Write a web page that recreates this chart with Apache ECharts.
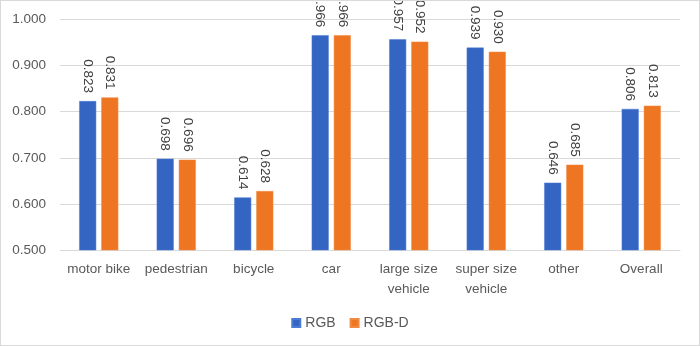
<!DOCTYPE html>
<html><head><meta charset="utf-8">
<script src="https://cdn.jsdelivr.net/npm/echarts@6/dist/echarts.min.js"></script>
<style>
html,body{margin:0;padding:0;background:#fff;}
#c{position:absolute;left:0;top:0;width:698px;height:344px;border:1px solid #d9d9d9;}
</style></head><body>
<div id="c"></div>
<script>
var categories = ['motor bike', 'pedestrian', 'bicycle', 'car', 'large size\nvehicle', 'super size\nvehicle', 'other', 'Overall'];
var rgbValues = [0.823, 0.698, 0.614, 0.966, 0.957, 0.939, 0.646, 0.806];
var rgbdValues = [0.831, 0.696, 0.628, 0.966, 0.952, 0.930, 0.685, 0.813];
var seriesNames = ['RGB', 'RGB-D'];
var yMin = 0.5, yMax = 1.0, yStep = 0.1;

var chart = echarts.init(document.getElementById('c'));
var font = 'Liberation Sans, Arial, sans-serif';
var lbl = {
  show: true, position: 'top', rotate: -90, align: 'right', verticalAlign: 'middle',
  distance: 8, color: '#404040', fontSize: 13.5, fontFamily: font,
  formatter: function (p) { return p.value.toFixed(3); }
};
chart.setOption({
  animation: false,
  grid: { left: 59, right: 19, top: 18.5, bottom: 95 },
  legend: {
    data: seriesNames, bottom: 10, left: 'center', itemWidth: 8, itemHeight: 8, itemGap: 14,
    icon: 'rect', textStyle: { color: '#595959', fontSize: 14, fontFamily: font }
  },
  xAxis: {
    type: 'category', data: categories,
    axisLine: { lineStyle: { color: '#d9d9d9', width: 1 } },
    axisTick: { show: false },
    axisLabel: { color: '#595959', fontSize: 13.5, fontFamily: font, margin: 9, lineHeight: 20, interval: 0 }
  },
  yAxis: {
    type: 'value', min: yMin, max: yMax, interval: yStep,
    axisLine: { show: false }, axisTick: { show: false },
    splitLine: { lineStyle: { color: '#d9d9d9', width: 1 } },
    axisLabel: { color: '#595959', fontSize: 13.5, fontFamily: font, margin: 14,
      formatter: function (v) { return v.toFixed(3); } }
  },
  series: [
    { name: seriesNames[0], type: 'bar', data: rgbValues, barWidth: 17, barGap: '30%',
      itemStyle: { color: '#3565C2', borderColor: '#4a7bd6', borderWidth: 0.5 }, label: lbl },
    { name: seriesNames[1], type: 'bar', data: rgbdValues, barWidth: 17,
      itemStyle: { color: '#EE7623', borderColor: '#f08a40', borderWidth: 0.5 }, label: lbl }
  ]
});
</script>
</body></html>
